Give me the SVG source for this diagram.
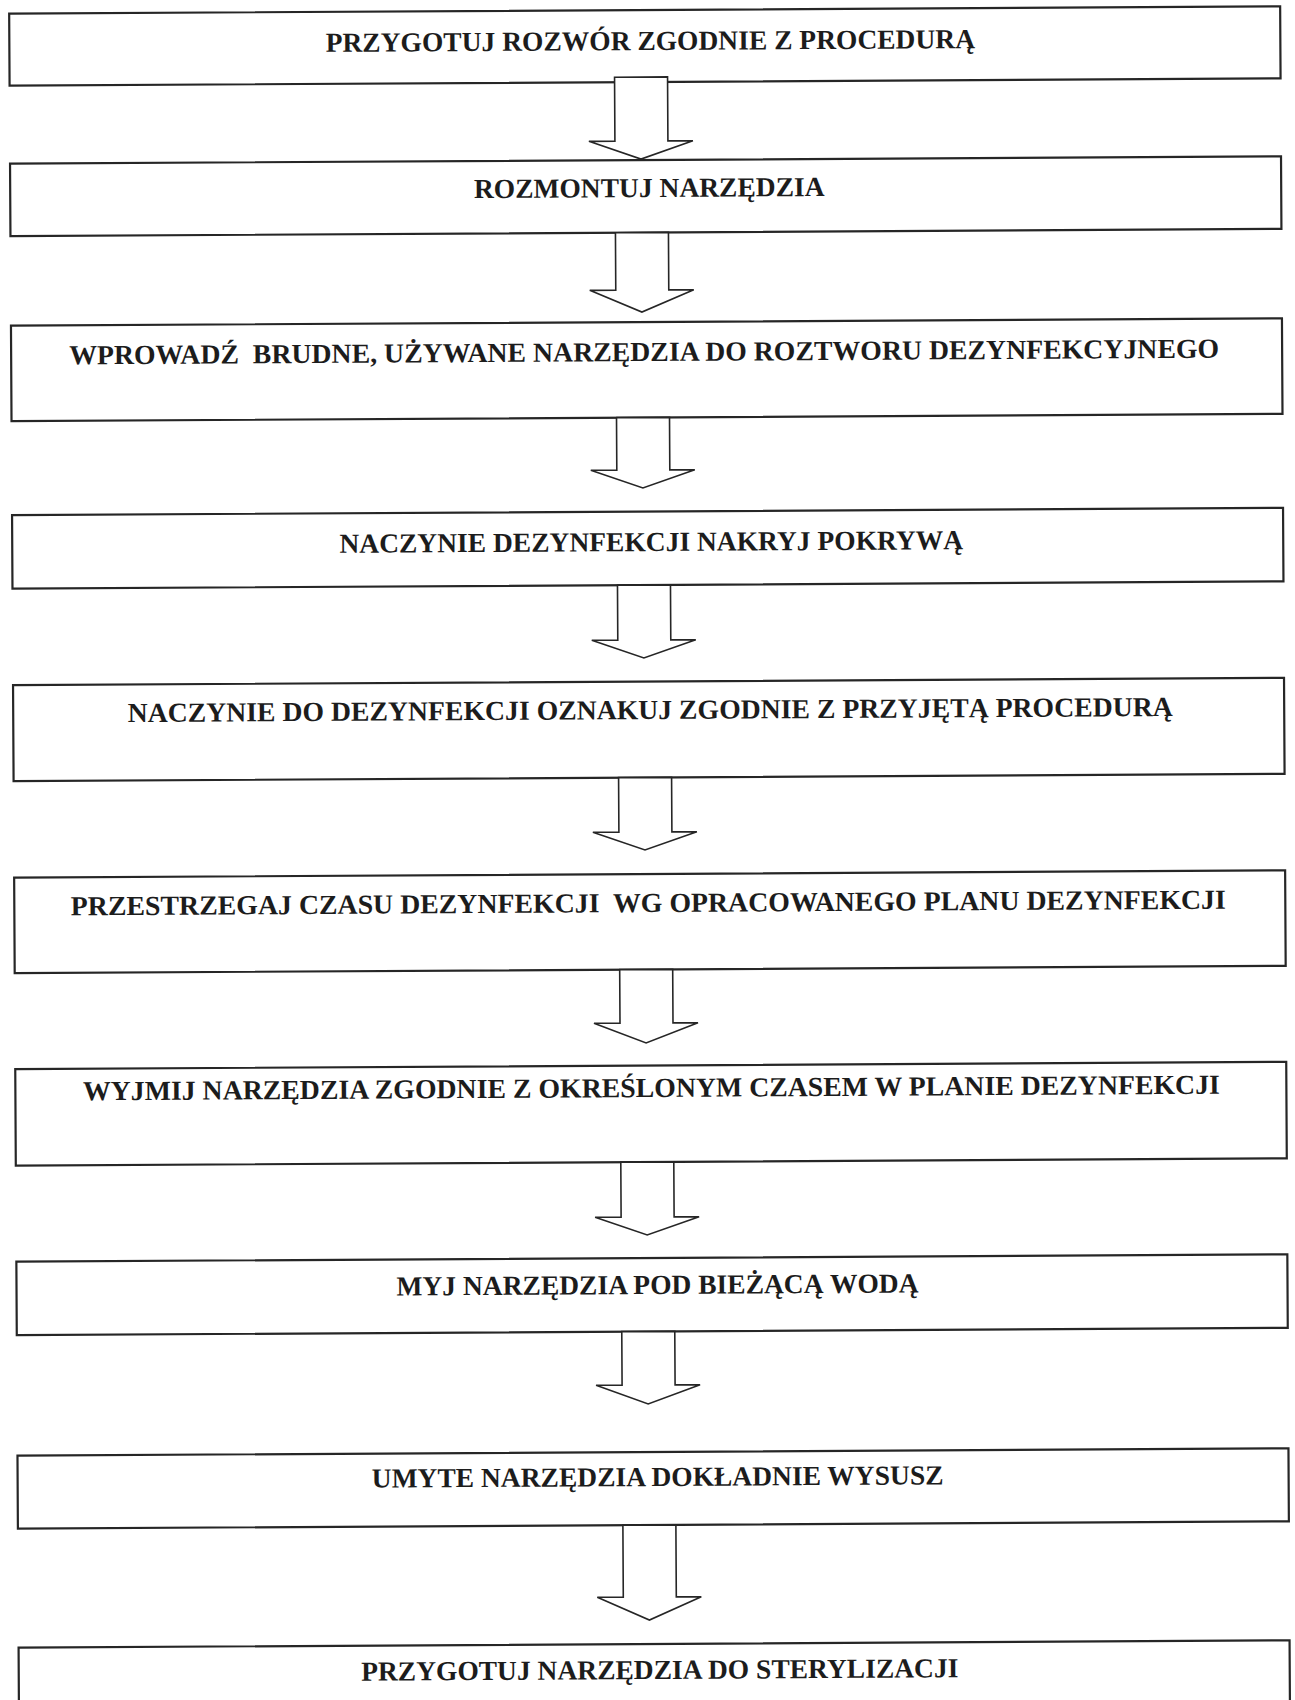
<svg xmlns="http://www.w3.org/2000/svg" width="1295" height="1700" viewBox="0 0 1295 1700">
<style>
.box{fill:#ffffff;stroke:#262626;stroke-width:2.2}
.lbl{font-family:"Liberation Serif","Times New Roman",serif;font-weight:bold;font-size:27.5px;fill:#1c1c1c;text-anchor:middle;white-space:pre}
.arr{fill:#ffffff;stroke:#262626;stroke-width:1.6;stroke-linejoin:miter}
</style>
<rect x="0" y="0" width="1295" height="1700" fill="#ffffff"/>
<g transform="rotate(-0.33 648 850)">
<g id="nodes">
<g id="n1"><rect class="box" x="14" y="10" width="1271" height="72"/><text class="lbl" x="655" y="50">PRZYGOTUJ ROZWÓR ZGODNIE Z PROCEDURĄ</text></g>
<g id="n2"><rect class="box" x="14" y="160" width="1271" height="72.5"/><text class="lbl" x="653" y="197">ROZMONTUJ NARZĘDZIA</text></g>
<g id="n3"><rect class="box" x="14" y="322" width="1271" height="95.5"/><text class="lbl" x="647" y="361" textLength="1150" lengthAdjust="spacingAndGlyphs">WPROWADŹ  BRUDNE, UŻYWANE NARZĘDZIA DO ROZTWORU DEZYNFEKCYJNEGO</text></g>
<g id="n4"><rect class="box" x="14" y="511.5" width="1271" height="73.5"/><text class="lbl" x="653" y="551">NACZYNIE DEZYNFEKCJI NAKRYJ POKRYWĄ</text></g>
<g id="n5"><rect class="box" x="14" y="681.5" width="1271" height="96"/><text class="lbl" x="651" y="719" textLength="1045" lengthAdjust="spacingAndGlyphs">NACZYNIE DO DEZYNFEKCJI OZNAKUJ ZGODNIE Z PRZYJĘTĄ PROCEDURĄ</text></g>
<g id="n6"><rect class="box" x="14" y="874" width="1271" height="95.5"/><text class="lbl" x="648" y="912" textLength="1155" lengthAdjust="spacingAndGlyphs">PRZESTRZEGAJ CZASU DEZYNFEKCJI  WG OPRACOWANEGO PLANU DEZYNFEKCJI</text></g>
<g id="n7"><rect class="box" x="14" y="1065.5" width="1271" height="96.5"/><text class="lbl" x="650" y="1097" textLength="1137" lengthAdjust="spacingAndGlyphs">WYJMIJ NARZĘDZIA ZGODNIE Z OKREŚLONYM CZASEM W PLANIE DEZYNFEKCJI</text></g>
<g id="n8"><rect class="box" x="14" y="1258" width="1271" height="73.5"/><text class="lbl" x="655" y="1294">MYJ NARZĘDZIA POD BIEŻĄCĄ WODĄ</text></g>
<g id="n9"><rect class="box" x="14" y="1452" width="1271" height="73"/><text class="lbl" x="654" y="1486">UMYTE NARZĘDZIA DOKŁADNIE WYSUSZ</text></g>
<g id="n10"><rect class="box" x="14" y="1644" width="1271" height="80"/><text class="lbl" x="655" y="1679">PRZYGOTUJ NARZĘDZIA DO STERYLIZACJI</text></g>
</g>
<g id="connectors">
<polygon class="arr" points="619,77 672,77 672,141 697,141 645,159 593,141 619,141"/>
<polygon class="arr" points="619,232.5 672,232.5 672,290 697,290 645,312 593,290 619,290"/>
<polygon class="arr" points="619,417.5 672,417.5 672,470 697,470 645,488 593,470 619,470"/>
<polygon class="arr" points="619,585 672,585 672,640 697,640 645,658 593,640 619,640"/>
<polygon class="arr" points="619,777.5 672,777.5 672,832 697,832 645,850 593,832 619,832"/>
<polygon class="arr" points="619,969.5 672,969.5 672,1023 697,1023 645,1043 593,1023 619,1023"/>
<polygon class="arr" points="619,1162 672,1162 672,1217 697,1217 645,1235 593,1217 619,1217"/>
<polygon class="arr" points="619,1331.5 672,1331.5 672,1385 697,1385 645,1404 593,1385 619,1385"/>
<polygon class="arr" points="619,1525 672,1525 672,1597 697,1597 645,1620 593,1597 619,1597"/>
</g>
</g>
</svg>
